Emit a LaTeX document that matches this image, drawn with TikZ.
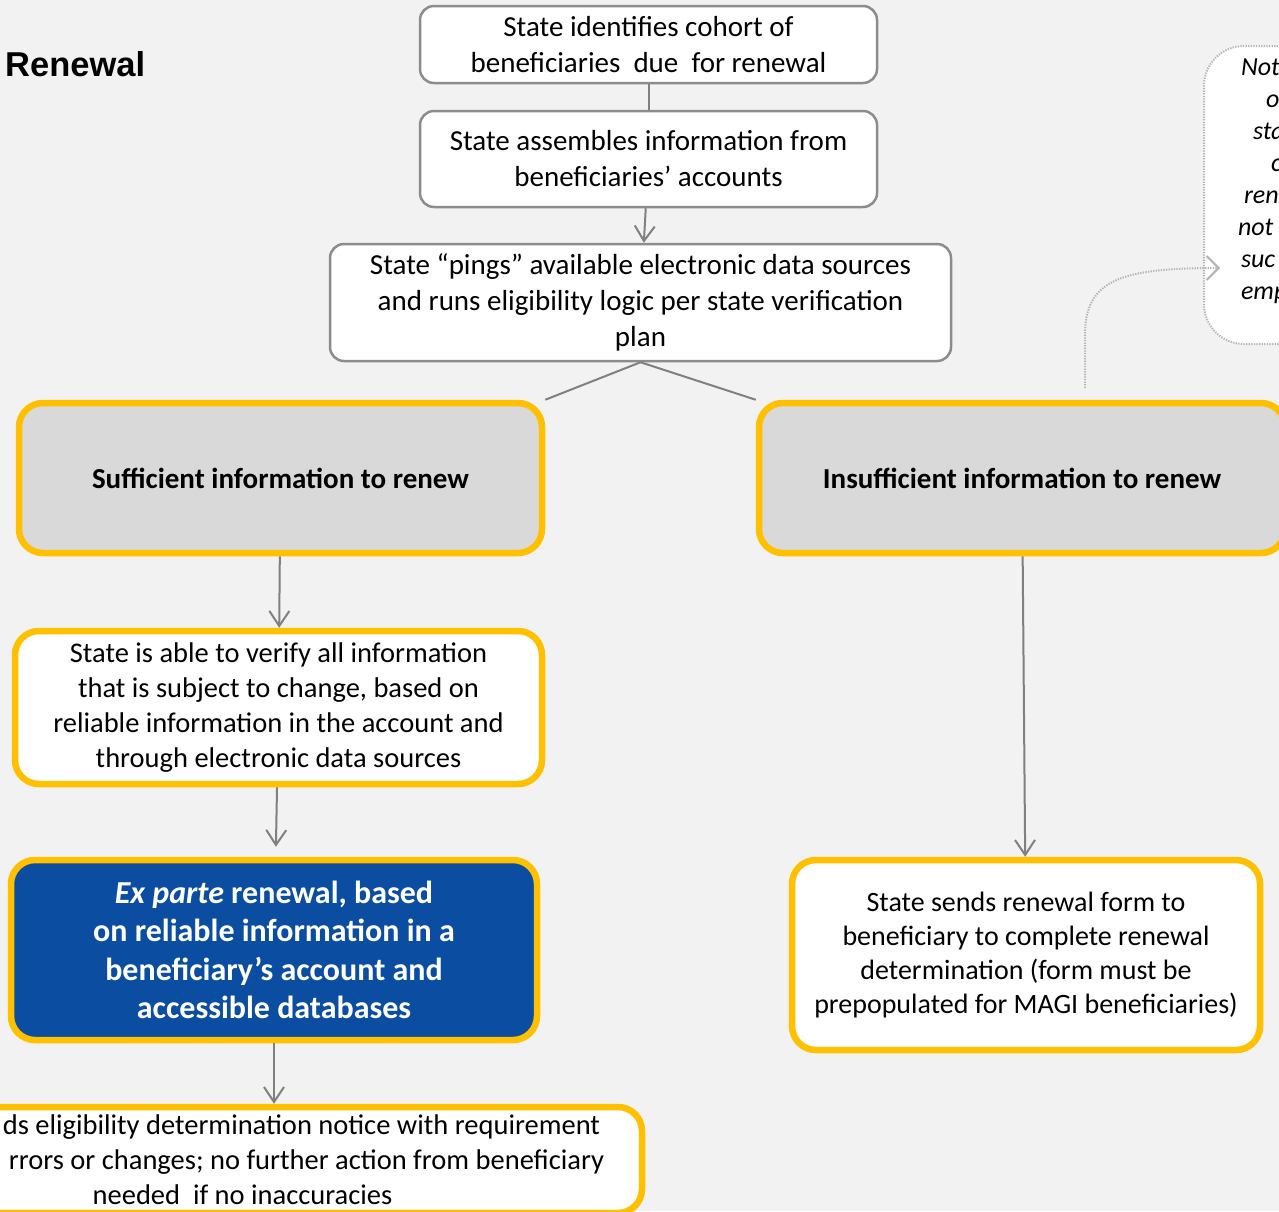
\documentclass[tikz,border=0pt]{standalone}
\usepackage{fontspec}
\setmainfont{Carlito}
\newfontfamily\titlefont{Liberation Sans}
\usetikzlibrary{arrows.meta}
\definecolor{bgcol}{HTML}{F2F2F2}
\definecolor{linecol}{HTML}{808080}
\definecolor{boxline}{HTML}{8C8C8C}
\definecolor{dotcol}{HTML}{B4B4B4}
\definecolor{gold}{HTML}{FFC000}
\definecolor{boxgray}{HTML}{D9D9D9}
\definecolor{navy}{HTML}{0B4DA0}
\tikzset{
  plainbox/.style={draw=boxline,line width=2.5pt,fill=white,rounded corners=14pt,align=center,inner sep=0pt,font=\fontsize{29}{36}\selectfont},
  goldbox/.style={draw=gold,line width=6.5pt,rounded corners=24pt,align=center,inner sep=0pt,font=\fontsize{29}{35}\selectfont},
  notebox/.style={draw=dotcol,line width=2pt,dash pattern=on 1.3pt off 1.3pt,fill=white,rounded corners=40pt,align=left,font=\itshape\fontsize{26}{32}\selectfont},
  flow/.style={draw=linecol,line width=2pt,-{Straight Barb[length=15pt,width=20pt]}},
  link/.style={draw=linecol,line width=2pt},
  dotlink/.style={draw=dotcol,line width=2pt,dash pattern=on 1.3pt off 1.3pt,-{Straight Barb[length=12pt,width=24pt]}}
}

\begin{document}
\begin{tikzpicture}[x=1pt,y=-1pt]
  \useasboundingbox (0,0) rectangle (1279,1211);
  \fill [bgcol] (0,0) rectangle (1279,1211);
  \clip (0,0) rectangle (1279,1211);

  \node [anchor=west, inner sep=0pt, font=\titlefont\bfseries\fontsize{34.5}{40}\selectfont] (title) at (5,64) {Renewal};

  \node [plainbox, minimum width=457pt, minimum height=77pt] (cohort) at (648.5,44.5) {State identifies cohort of\\beneficiaries\ \ due\ \ for renewal};
  \node [plainbox, minimum width=457pt, minimum height=96pt] (assemble) at (648.5,159) {State assembles information from\\beneficiaries’ accounts};
  \node [plainbox, minimum width=621pt, minimum height=117pt] (ping) at (640.5,302.5) {State “pings” available electronic data sources\\and runs eligibility logic per state verification\\plan};

  \node [goldbox, fill=boxgray, minimum width=523pt, minimum height=150pt, font=\bfseries\fontsize{29}{35}\selectfont] (suff) at (280.5,478) {Sufficient information to renew};
  \node [goldbox, fill=boxgray, minimum width=526pt, minimum height=150pt, font=\bfseries\fontsize{29}{35}\selectfont] (insuff) at (1022,478) {Insufficient information to renew};

  \node [goldbox, fill=white, minimum width=527pt, minimum height=153pt, font=\fontsize{28.5}{35}\selectfont] (verify) at (278.5,707.5) {State is able to verify all information\\that is subject to change, based on\\reliable information in the account and\\through electronic data sources};
  \node [goldbox, fill=navy, text=white, minimum width=526pt, minimum height=180pt, font=\bfseries\fontsize{32}{38.5}\selectfont] (exparte) at (274,950) {\textit{Ex parte} renewal, based\\on reliable information in a\\beneficiary’s account and\\accessible databases};
  \node [goldbox, fill=white, minimum width=799pt, minimum height=106pt, font=\fontsize{28.5}{35}\selectfont] (notice) at (242.5,1160) {\hspace*{118pt}ds eligibility determination notice with requirement\\\hspace*{128pt}rrors or changes; no further action from beneficiary\\needed\ \ if no inaccuracies};

  \node [goldbox, fill=white, minimum width=468pt, minimum height=190pt, font=\fontsize{28}{34}\selectfont] (sendform) at (1026,955) {State sends renewal form to\\beneficiary to complete renewal\\determination (form must be\\prepopulated for MAGI beneficiaries)};

  \node [notebox, anchor=west, text width=150pt, inner xsep=34pt, minimum height=298pt] (note) at (1203,195) {\hspace*{3pt}Not\\\hspace*{28pt}of\\\hspace*{15pt}sta\\\hspace*{33pt}c\\\hspace*{6pt}ren\\not\\\hspace*{3pt}suc\\\hspace*{3pt}emp\\\mbox{}};

  \coordinate (notefoot) at (1085,388);
  \coordinate (notein) at (1220,268);

  \draw [link] (cohort) -- (assemble);
  \draw [flow] (assemble) -- (ping);
  \draw [link] (ping.south) -- (suff.north east);
  \draw [link] (ping.south) -- (insuff.north west);
  \draw [flow] (suff) -- (verify);
  \draw [flow, shorten >=10pt] (verify) -- (exparte);
  \draw [flow] (exparte.south) -- (exparte.south |- notice.north);
  \draw [flow] (insuff) -- (sendform);
  \draw [dotlink] (notefoot) -- (1085,335) .. controls (1085,280) and (1120,268) .. (notein);
\end{tikzpicture}
\end{document}
